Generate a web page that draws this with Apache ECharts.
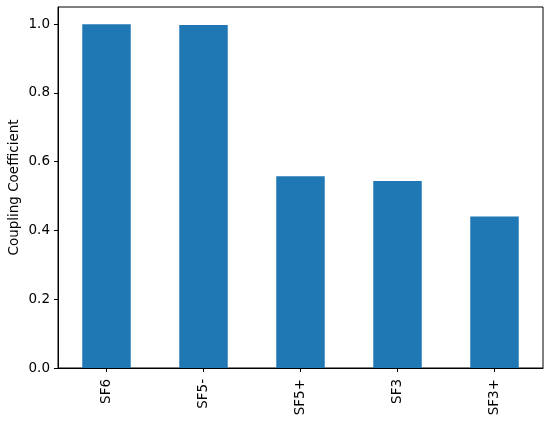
<!DOCTYPE html>
<html><head><meta charset="utf-8">
<script src="https://cdn.jsdelivr.net/npm/echarts@6/dist/echarts.min.js"></script>
<style>html,body{margin:0;padding:0;background:#fff}#c{width:550px;height:421px}</style>
</head><body><div id="c"></div>
<script>
const categories = ["SF6", "SF5-", "SF5+", "SF3", "SF3+"];
const couplingValues = [1.0, 0.998, 0.558, 0.544, 0.441];
const yTickValues = [0, 0.2, 0.4, 0.6, 0.8, 1.0];
const yAxisTitle = "Coupling Coefficient";

const font = "DejaVu Sans";
const chart = echarts.init(document.getElementById('c'), null, {renderer: 'canvas'});
chart.setOption({
  animation: false,
  backgroundColor: '#fff',
  grid: {left: 58, right: 7, top: 7, bottom: 53, containLabel: false, outerBoundsMode: 'none', show: true, borderColor: '#000', borderWidth: 1, backgroundColor: 'transparent'},
  xAxis: {
    type: 'category', data: categories,
    axisLine: {show: true, lineStyle: {color: '#000', width: 1}},
    axisTick: {show: true, alignWithLabel: true, length: 4, lineStyle: {color: '#000'}},
    axisLabel: {rotate: 90, color: '#000', fontFamily: font, fontSize: 13.5, margin: 11}
  },
  yAxis: {
    type: 'value', min: 0, max: 1.05,
    name: yAxisTitle, nameLocation: 'middle', nameGap: 37, nameMoveOverlap: false,
    nameTextStyle: {color: '#000', fontFamily: font, fontSize: 13.5},
    axisLine: {show: true, lineStyle: {color: '#000', width: 1}},
    axisTick: {show: true, length: 4, lineStyle: {color: '#000'}, customValues: yTickValues},
    axisLabel: {color: '#000', fontFamily: font, fontSize: 13.5, margin: 8, customValues: yTickValues, formatter: v => v.toFixed(1)},
    splitLine: {show: false}
  },
  series: [{
    type: 'bar', data: couplingValues, barWidth: '50%',
    itemStyle: {color: '#1f77b4'}
  }]
});
</script></body></html>
